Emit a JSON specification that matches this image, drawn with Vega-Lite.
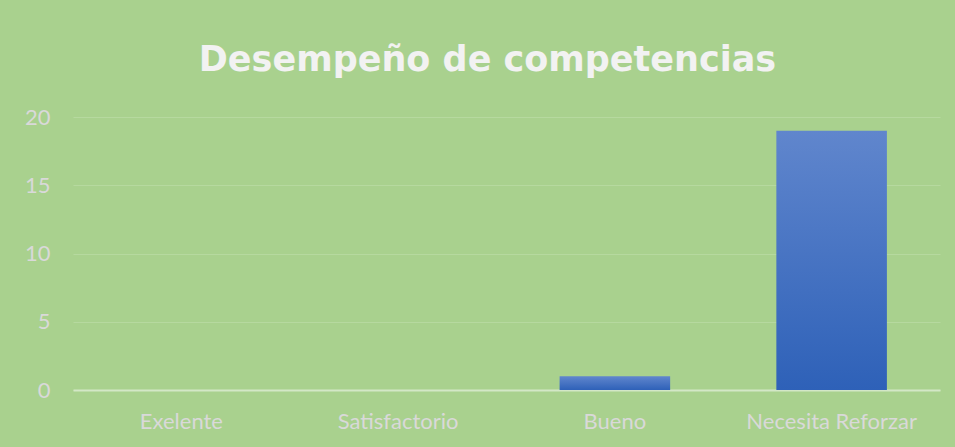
{
  "$schema": "https://vega.github.io/schema/vega-lite/v6.json",
  "width": 867,
  "height": 273,
  "autosize": {"type": "none"},
  "padding": {"left": 73, "top": 117, "right": 15, "bottom": 57},
  "background": "#A9D18E",
  "title": {
    "text": "Desempeño de competencias",
    "font": "DejaVu Sans",
    "fontSize": 35,
    "fontWeight": "bold",
    "color": "#F2F2F2",
    "anchor": "middle",
    "frame": "group",
    "baseline": "alphabetic",
    "offset": 0,
    "dx": -19
  },
  "data": {
    "values": [
      {"categoria": "Exelente", "valor": 0},
      {"categoria": "Satisfactorio", "valor": 0},
      {"categoria": "Bueno", "valor": 1},
      {"categoria": "Necesita Reforzar", "valor": 19}
    ]
  },
  "mark": {
    "type": "bar",
    "color": {
      "gradient": "linear",
      "x1": 0, "y1": 0, "x2": 0, "y2": 1,
      "stops": [
        {"offset": 0, "color": "#6086CD"},
        {"offset": 1, "color": "#2E61B8"}
      ]
    }
  },
  "encoding": {
    "x": {
      "field": "categoria",
      "type": "nominal",
      "sort": null,
      "scale": {"paddingInner": 0.49, "paddingOuter": 0.245},
      "axis": {
        "title": null,
        "labelAngle": 0,
        "labelFont": "Lato",
        "labelFontSize": 22,
        "labelColor": "#D9D9D9",
        "labelPadding": 21,
        "ticks": false,
        "domainColor": "#D3E7C6",
        "domainWidth": 2
      }
    },
    "y": {
      "field": "valor",
      "type": "quantitative",
      "scale": {"domain": [0, 20]},
      "axis": {
        "title": null,
        "values": [0, 5, 10, 15, 20],
        "domain": false,
        "ticks": false,
        "grid": true,
        "gridColor": "#B6D99F",
        "gridWidth": 1,
        "labelFont": "Lato",
        "labelFontSize": 22,
        "labelColor": "#D9D9D9",
        "labelPadding": 23
      }
    }
  },
  "config": {"view": {"stroke": null}}
}
